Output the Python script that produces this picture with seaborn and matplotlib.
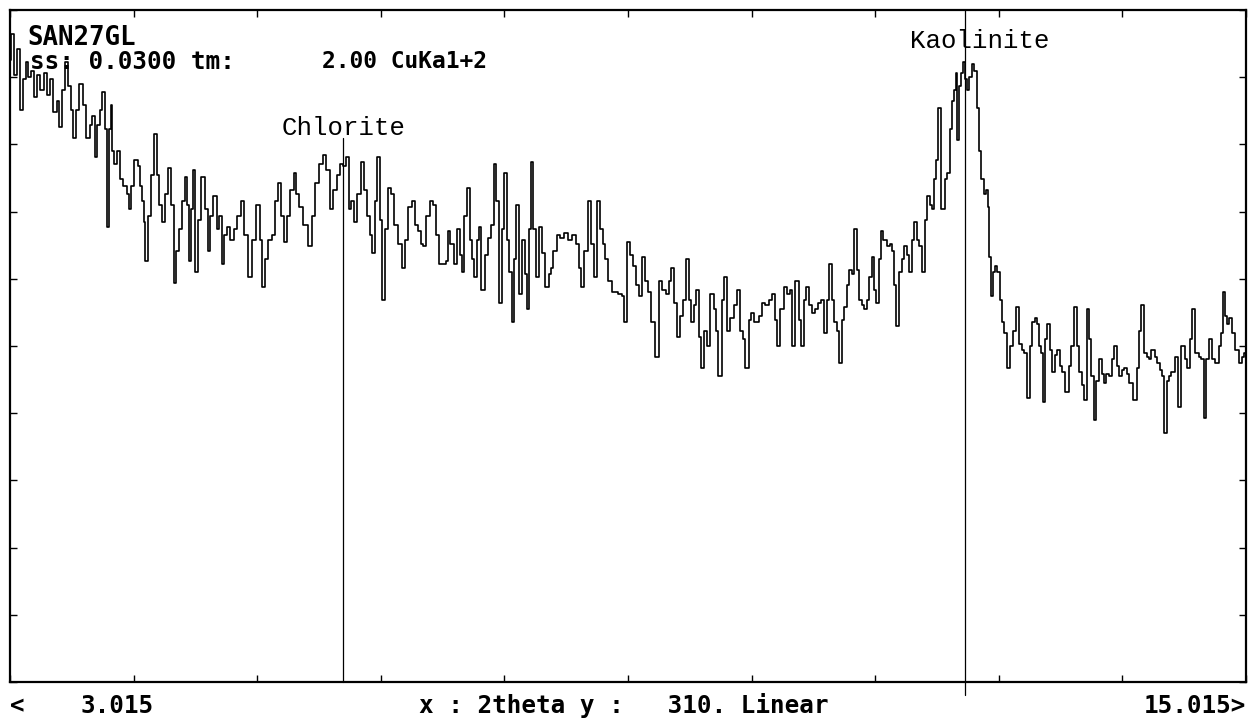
import matplotlib
matplotlib.use("Agg")
import matplotlib.pyplot as plt
import numpy as np
import pandas as pd
import seaborn as sns

# Scan SAN27GL, CuKa1+2, step 0.03 deg, linear intensity scale (full scale 310 counts)
two_theta = [
    3.015, 3.044, 3.073, 3.093, 3.122, 3.151, 3.180, 3.209, 3.238, 3.258,
    3.287, 3.326, 3.355, 3.384, 3.413, 3.452, 3.481, 3.510, 3.539, 3.559,
    3.588, 3.617, 3.646, 3.675, 3.704, 3.734, 3.772, 3.802, 3.821, 3.850,
    3.869, 3.899, 3.918, 3.947, 3.967, 3.986, 3.996, 4.015, 4.035, 4.064,
    4.093, 4.132, 4.161, 4.180, 4.209, 4.238, 4.268, 4.287, 4.306, 4.326,
    4.335, 4.365, 4.394, 4.423, 4.452, 4.471, 4.501, 4.530, 4.569, 4.588,
    4.617, 4.646, 4.666, 4.695, 4.724, 4.743, 4.763, 4.782, 4.802, 4.821,
    4.850, 4.889, 4.918, 4.947, 4.976, 5.005,
    5.035, 5.054, 5.083, 5.112, 5.141, 5.170, 5.200, 5.238, 5.277, 5.306,
    5.345, 5.384, 5.423, 5.452, 5.471, 5.510, 5.539, 5.569, 5.598, 5.627,
    5.656, 5.685, 5.714, 5.753, 5.782, 5.811, 5.840, 5.879, 5.928, 5.957,
    5.996, 6.035, 6.073, 6.102, 6.141, 6.170, 6.200, 6.229, 6.258, 6.287,
    6.316, 6.345, 6.365, 6.404, 6.442, 6.471, 6.491, 6.520, 6.539, 6.569,
    6.588, 6.617, 6.637, 6.666, 6.695, 6.724, 6.763, 6.802, 6.831, 6.860,
    6.899, 6.928, 6.957,
    6.986, 7.015, 7.044, 7.073, 7.103, 7.132, 7.161, 7.190, 7.229, 7.258,
    7.277, 7.306, 7.336, 7.365, 7.394, 7.413, 7.442, 7.462, 7.491, 7.510,
    7.530, 7.559, 7.578, 7.607, 7.637, 7.666, 7.695, 7.724, 7.743, 7.773,
    7.802, 7.821, 7.850, 7.870, 7.899, 7.918, 7.938, 7.967, 7.996, 8.025,
    8.044, 8.064, 8.083, 8.112, 8.132, 8.161, 8.190, 8.229, 8.258, 8.277,
    8.306, 8.336, 8.375, 8.413, 8.452, 8.491, 8.520, 8.549, 8.578, 8.607,
    8.646, 8.675, 8.695, 8.724, 8.753, 8.782, 8.811, 8.840, 8.870,
    8.899, 8.938, 8.967, 8.986, 9.015, 9.045, 9.074, 9.103, 9.132, 9.161,
    9.190, 9.219, 9.258, 9.297, 9.326, 9.365, 9.394, 9.423, 9.443, 9.472,
    9.501, 9.530, 9.559, 9.598, 9.617, 9.637, 9.666, 9.685, 9.714, 9.734,
    9.763, 9.792, 9.831, 9.860, 9.879, 9.908, 9.938, 9.957, 9.986, 10.025,
    10.054, 10.083, 10.122, 10.141, 10.170, 10.200, 10.219, 10.267, 10.297, 10.326,
    10.365, 10.394, 10.423, 10.452, 10.472, 10.511, 10.540, 10.578, 10.607, 10.617,
    10.656, 10.685, 10.705, 10.734, 10.753, 10.782, 10.812, 10.850,
    10.879, 10.900, 10.928, 10.960, 10.979, 11.008, 11.028, 11.057, 11.076, 11.105,
    11.125, 11.154, 11.173, 11.203, 11.222, 11.251, 11.271, 11.300, 11.319, 11.348,
    11.368, 11.397, 11.416, 11.436, 11.462, 11.481, 11.510, 11.540, 11.569, 11.588,
    11.608, 11.627, 11.656, 11.685, 11.705, 11.734, 11.753, 11.782, 11.802, 11.831,
    11.853, 11.880, 11.909, 11.928, 11.957, 11.977, 11.996, 12.015, 12.044, 12.073,
    12.103, 12.122, 12.151, 12.171, 12.190, 12.209, 12.219, 12.239, 12.258, 12.277,
    12.297, 12.316, 12.336, 12.365, 12.384, 12.413, 12.433, 12.452, 12.481, 12.501,
    12.510, 12.530, 12.549, 12.559, 12.588, 12.608, 12.637, 12.656,
    12.676, 12.705, 12.743, 12.763, 12.792, 12.821, 12.850, 12.870, 12.899, 12.928,
    12.947, 12.977, 12.996, 13.015, 13.035, 13.044, 13.074, 13.093, 13.122, 13.142,
    13.171, 13.190, 13.219, 13.239, 13.277, 13.307, 13.326, 13.355, 13.384, 13.404,
    13.433, 13.452, 13.481, 13.501, 13.520, 13.549, 13.578, 13.598, 13.627, 13.646,
    13.675, 13.695, 13.724, 13.744, 13.773, 13.792, 13.821, 13.841, 13.870, 13.889,
    13.938, 13.967, 13.986, 14.006, 14.035, 14.064, 14.083, 14.112, 14.142, 14.161,
    14.190, 14.210, 14.229, 14.258, 14.277, 14.306, 14.345, 14.374, 14.403, 14.433,
    14.452, 14.481, 14.501, 14.540, 14.569, 14.588, 14.617, 14.646, 14.666, 14.695,
    14.734, 14.763, 14.782, 14.792, 14.821, 14.840, 14.869, 14.889, 14.928, 14.957,
    14.986, 15.005,
]

counts = [
    287, 299, 280, 292, 264, 278, 286, 279, 282, 270,
    280, 273, 281, 271, 278, 263, 268, 256, 273, 286,
    275, 264, 251, 264, 276, 266, 251, 257, 261, 242,
    257, 264, 272, 255, 210, 255, 266, 245, 239, 245,
    232, 229, 225, 218, 229, 241, 238, 229, 222, 212,
    194, 215, 234, 253, 234, 220, 212, 225, 237, 220,
    184, 199, 209, 222, 233, 220, 194, 218, 236, 189,
    213, 233, 218, 199, 215, 224,
    209, 215, 193, 206, 210, 204, 209, 215, 222, 206,
    187, 204, 220, 204, 182, 195, 204, 206, 222, 230,
    215, 203, 215, 227, 235, 225, 219, 211, 201, 215,
    230, 239, 243, 236, 218, 227, 234, 239, 238, 242,
    218, 222, 212, 225, 240, 227, 215, 206, 198, 222,
    242, 213, 176, 209, 228, 225, 211, 202, 191, 204,
    219, 222, 211,
    208, 202, 201, 215, 222, 220, 206, 193, 193, 194,
    208, 202, 193, 209, 197, 189, 215, 228, 204, 195,
    187, 204, 210, 181, 197, 205, 211, 239, 222, 175,
    209, 235, 204, 189, 166, 195, 220, 179, 204, 188,
    172, 209, 240, 209, 187, 210, 198, 182, 188, 191,
    199, 206, 205, 207, 204, 206, 202, 191, 182, 199,
    222, 202, 187, 222, 209, 202, 195, 185, 180,
    180, 179, 178, 166, 203, 197, 192, 183, 178, 196,
    185, 180, 166, 150, 185, 181, 179, 185, 191, 175,
    159, 169, 176, 195, 176, 166, 174, 181, 159, 145,
    162, 155, 179, 172, 162, 141, 176, 187, 162, 168,
    174, 181, 162, 158, 145, 167, 170, 166, 169, 175,
    174, 176, 179, 167, 155, 172, 182, 179, 181, 155,
    185, 167, 155, 176, 182, 174, 170, 172,
    175, 176, 161, 176, 193, 176, 166, 162, 147, 167,
    173, 183, 190, 188, 209, 190, 176, 174, 172, 176,
    187, 196, 181, 175, 195, 208, 204, 201, 202, 199,
    183, 164, 189, 195, 201, 197, 189, 204, 212, 204,
    201, 189, 213, 224, 220, 218, 232, 241, 265, 218,
    232, 235, 255, 268, 273, 281, 250, 275, 281, 286,
    278, 273, 279, 285, 282, 265, 245, 232, 225, 227,
    219, 196, 178, 189, 192, 189, 176, 166,
    161, 145, 155, 162, 173, 156, 153, 152, 131, 155,
    166, 168, 165, 155, 152, 129, 158, 165, 153, 143,
    151, 153, 146, 143, 134, 146, 155, 173, 155, 143,
    137, 130, 172, 158, 141, 121, 139, 149, 142, 138,
    142, 141, 149, 155, 146, 141, 144, 145, 142, 138,
    130, 145, 162, 174, 152, 150, 149, 153, 150, 147,
    144, 141, 115, 139, 141, 143, 150, 127, 155, 149,
    145, 158, 172, 152, 150, 149, 122, 149, 158, 149,
    147, 155, 161, 180, 169, 165, 168, 161, 153, 147,
    150, 152,
]

# Identified reflections: name, marker position, label left edge, label height, marker extent
phase_names = ["Chlorite", "Kaolinite"]
phase_2theta = [6.248, 12.287]
label_2theta = [5.656, 11.753]
label_counts = [255.6, 295.7]
marker_top = [251.0, 310.0]
marker_bottom = [0.0, -6.0]

x_min, x_max = 3.015, 15.015
y_max = 310
n_div = 10

sns.set_theme(style="white")
plt.rcParams["font.family"] = ["DejaVu Sans Mono", "DejaVu Sans"]

W, H = 1252, 724
fig = plt.figure(figsize=(W / 100, H / 100), dpi=100)
fig.patch.set_facecolor("white")
ax = fig.add_axes([10 / W, 42 / H, 1236 / W, 672 / H])
ax.set_facecolor("white")

df = pd.DataFrame({"two_theta": two_theta, "counts": counts})
sns.lineplot(data=df, x="two_theta", y="counts", ax=ax, color="black",
             linewidth=1.2, drawstyle="steps-mid", estimator=None, sort=False,
             legend=False)

ax.set_xlim(x_min, x_max)
ax.set_ylim(0, y_max)
ax.set_xlabel("")
ax.set_ylabel("")
ax.set_xticks(np.linspace(x_min, x_max, n_div + 1))
ax.set_yticks(np.linspace(0, y_max, n_div + 1))
ax.tick_params(direction="in", length=5, width=1.0, color="black",
               top=True, right=True, bottom=True, left=True,
               labelbottom=False, labelleft=False)
for sp in ax.spines.values():
    sp.set_color("black")
    sp.set_linewidth(1.6)
ax.grid(False)

# Phase marker lines and labels
for name, pos, lx, ly, top, bot in zip(phase_names, phase_2theta, label_2theta,
                                        label_counts, marker_top, marker_bottom):
    ax.plot([pos, pos], [bot, top], color="black", linewidth=0.9, clip_on=False)
    ax.text(lx, ly, name, ha="left", va="center", fontsize=18.5,
            family=["Liberation Mono", "DejaVu Sans Mono"], color="black")

# Scan header
fig.text(27 / W, 1 - 38 / H, "SAN27GL", fontsize=18.5, fontweight="bold",
         ha="left", va="center", color="black")
fig.text(30 / W, 1 - 62 / H, "ss: 0.0300 tm:", fontsize=17.5, fontweight="bold",
         ha="left", va="center", color="black")
fig.text(322 / W, 1 - 62 / H, "2.00 CuKa1+2", fontsize=16.5, fontweight="bold",
         ha="left", va="center", color="black")

# Axis range footer
foot_y = 1 - 706 / H
fig.text(10 / W, foot_y, "<", fontsize=17.5, fontweight="bold",
         ha="left", va="center", color="black")
fig.text(80 / W, foot_y, "3.015", fontsize=17.5, fontweight="bold",
         ha="left", va="center", color="black")
fig.text(419 / W, foot_y, "x : 2theta y :   310. Linear", fontsize=17.5,
         fontweight="bold", ha="left", va="center", color="black")
fig.text(1246 / W, foot_y, "15.015>", fontsize=17.5, fontweight="bold",
         ha="right", va="center", color="black")

fig.savefig("out.png", dpi=100, facecolor="white")
